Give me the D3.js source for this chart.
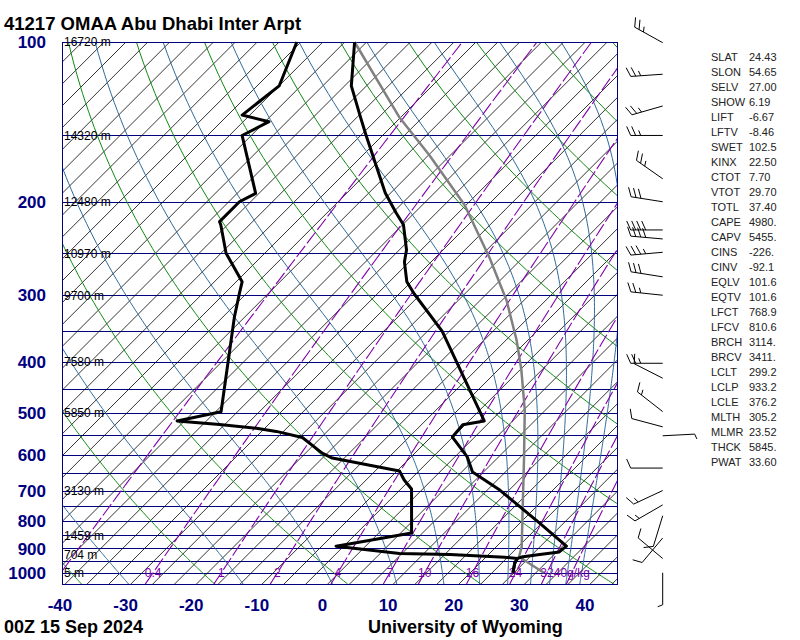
<!DOCTYPE html>
<html>
<head>
<meta charset="utf-8">
<script src="https://cdn.jsdelivr.net/npm/d3@7"></script>
<style>
body { margin: 0; background: #fff; }
text { font-family: "Liberation Sans", Arial, sans-serif; }
</style>
</head>
<body>
<script>
// sounding (pressure hPa, temperature degC)
var tempP = [100, 121, 138.4, 150, 192.6, 210, 221, 246.5, 259.6, 283, 298.4, 350.6, 517.6, 526, 555, 605, 646, 698.6, 806, 891, 913.6, 923.5, 933, 939.6, 958.6, 1000];
var tempT = [-77.7, -71.5, -65.4, -61.7, -50.0, -45.3, -42.4, -38.1, -36.6, -33.2, -30.2, -20.3, -0.2, -2.9, -2.6, 2.7, 5.8, 12.7, 23.8, 31.4, 31.2, 28.6, 26.4, 25.8, 26.1, 27.3];

var dewP = [100, 121, 137.3, 141.3, 150, 192.9, 200, 218, 221.2, 250, 283, 297, 329.8, 497.4, 517.6, 525.5, 534.3, 541.6, 556, 595, 608, 643, 668.7, 695.5, 841.5, 891, 920, 923.5, 929.5, 934.6, 939.6, 958.6, 1000];
var dewT = [-86.5, -82.5, -83.7, -78.6, -80.6, -69.7, -70.9, -70.9, -70.2, -65.1, -58.3, -57.0, -54.1, -41.7, -47.0, -40.0, -33.8, -30.3, -25.4, -20.0, -17.7, -5.5, -3.4, -0.9, 5.8, -3.7, 7.1, 14.9, 19.7, 23.7, 25.8, 26.1, 27.3];

var parcelP = [100, 138.4, 163.3, 202.8, 255.3, 306.6, 364.4, 415, 493.5, 613, 894, 933, 1000];
var parcelT = [-77.7, -59.5, -49.1, -36.1, -24.2, -15.2, -7.6, -2.3, 4.3, 11.8, 24.7, 25.8, 32.0];

var heightP = [100, 150, 200, 250, 300, 400, 500, 700, 850, 925, 1000];
var heightLabel = ["16720 m", "14320 m", "12480 m", "10970 m", "9700 m", "7580 m", "5850 m", "3130 m", "1459 m", "704 m", "5 m"];

var pressTicks = [100, 200, 300, 400, 500, 600, 700, 800, 900, 1000];
var tempTicks = [-40, -30, -20, -10, 0, 10, 20, 30, 40];

var mixRatios = [0.1, 0.4, 1, 2, 4, 7, 10, 16, 24, 32, 40];
var mixLabels = ["", "0.4", "1", "2", "4", "7", "10", "16", "24", "32", "40g/kg"];

// wind barbs: pressure, direction (deg), speed (kt)
var windP = [100.3, 115, 132, 150, 181, 200, 226, 235, 249, 277, 300, 403, 430, 497, 531, 552, 635, 700, 745, 781, 860, 940, 1000];
var windDir = [299, 266, 254, 270, 305, 279, 270, 275, 265, 279, 276, 270, 297, 308, 285, 87, 270, 245, 240, 197, 220, 310, 180];
var windSpd = [25, 25, 25, 25, 25, 30, 40, 40, 35, 30, 25, 25, 10, 15, 10, 3, 10, 15, 15, 10, 10, 10, 5];

var statNames = ["SLAT", "SLON", "SELV", "SHOW", "LIFT", "LFTV", "SWET", "KINX", "CTOT", "VTOT", "TOTL", "CAPE", "CAPV", "CINS", "CINV", "EQLV", "EQTV", "LFCT", "LFCV", "BRCH", "BRCV", "LCLT", "LCLP", "LCLE", "MLTH", "MLMR", "THCK", "PWAT"];
var statValues = ["24.43", "54.65", "27.00", "6.19", "-6.67", "-8.46", "102.5", "22.50", "7.70", "29.70", "37.40", "4980.", "5455.", "-226.", "-92.1", "101.6", "101.6", "768.9", "810.6", "3114.", "3411.", "299.2", "933.2", "376.2", "305.2", "23.52", "5845.", "33.60"];

// background line families
var isobars = d3.range(100, 1051, 50);
var isotherms = d3.range(-122, 46, 10 / 3).map(function(d) { return d + 2.8; });
var dryTheta = d3.range(-40, 181, 20);      // theta as temp at 1000 hPa
var moistThetaE = d3.range(241, 442, 20);   // equivalent potential temp, K

var w = 800, h = 640;
var pLeft = 62, pRight = 617, pTop = 42, pBottom = 584;

var svg = d3.select("body").append("svg")
  .attr("width", w)
  .attr("height", h);

var y = d3.scaleLog().domain([1050, 100]).range([pBottom, pTop]);
var xT = d3.scaleLinear().domain([-40, 40]).range([60, 585]);

function sx(t, p) { return xT(t) + (pBottom - y(p)); }

var line = d3.line()
  .x(function(d) { return sx(d[1], d[0]); })
  .y(function(d) { return y(d[0]); });

var pGrid = d3.range(1050, 95, -5);

function thetaE(tk, p) {
  var tc = tk - 273.15;
  var es = 6.112 * Math.exp(17.67 * tc / (tc + 243.5));
  var rs = 0.622 * es / (p - es);
  return tk * Math.pow(1000 / p, 0.2857) * Math.exp(2.5e6 * rs / (1004 * tk));
}
function moistT(te, p) {
  var lo = 150, hi = te * Math.pow(p / 1000, 0.2857);
  for (var i = 0; i < 40; i++) {
    var mid = (lo + hi) / 2;
    if (thetaE(mid, p) > te) hi = mid; else lo = mid;
  }
  return (lo + hi) / 2 - 273.15;
}
function mixT(r, p) {
  var es = r * p / (622 + r);
  var l = Math.log(es / 6.112);
  return 243.5 * l / (17.67 - l);
}

svg.append("clipPath").attr("id", "plot")
  .append("rect")
  .attr("x", pLeft).attr("y", pTop)
  .attr("width", pRight - pLeft).attr("height", pBottom - pTop);

var bg = svg.append("g").attr("clip-path", "url(#plot)");

bg.selectAll(".isobar")
  .data(isobars)
  .enter().append("line")
  .attr("x1", pLeft).attr("x2", pRight)
  .attr("y1", function(d) { return Math.round(y(d)) + 0.5; })
  .attr("y2", function(d) { return Math.round(y(d)) + 0.5; })
  .attr("stroke", "#000080")
  .attr("stroke-width", 1);

bg.selectAll(".isotherm")
  .data(isotherms)
  .enter().append("line")
  .attr("x1", function(d) { return sx(d, 1050); })
  .attr("y1", pBottom)
  .attr("x2", function(d) { return sx(d, 100); })
  .attr("y2", pTop)
  .attr("stroke", "#000")
  .attr("stroke-width", 0.8);

bg.selectAll(".dry")
  .data(dryTheta)
  .enter().append("path")
  .attr("d", function(th) {
    return line(pGrid.map(function(p) {
      return [p, (th + 273.15) * Math.pow(p / 1000, 0.2857) - 273.15];
    }));
  })
  .attr("fill", "none")
  .attr("stroke", "#108a10")
  .attr("stroke-width", 1);

bg.selectAll(".moist")
  .data(moistThetaE)
  .enter().append("path")
  .attr("d", function(te) {
    return line(pGrid.map(function(p) { return [p, moistT(te, p)]; }));
  })
  .attr("fill", "none")
  .attr("stroke", "#2f6a9a")
  .attr("stroke-width", 1);

bg.selectAll(".mix")
  .data(mixRatios)
  .enter().append("path")
  .attr("d", function(r) {
    return line(pGrid.map(function(p) { return [p, mixT(r, p)]; }));
  })
  .attr("fill", "none")
  .attr("stroke", "#8000a8")
  .attr("stroke-width", 1.1)
  .attr("stroke-dasharray", "14,3");

// frame
svg.append("rect")
  .attr("x", pLeft + 0.5).attr("y", pTop + 0.5)
  .attr("width", pRight - pLeft).attr("height", pBottom - pTop)
  .attr("fill", "none")
  .attr("stroke", "#000080");

// mixing ratio labels at 1000 hPa
svg.selectAll(".mixlab")
  .data(mixRatios)
  .enter().append("text")
  .attr("x", function(r) { return sx(mixT(r, 1000), 1000); })
  .attr("y", y(1000))
  .attr("dy", "0.36em")
  .attr("text-anchor", "middle")
  .attr("font-size", "12px")
  .attr("fill", "#8000a8")
  .text(function(r, i) { return mixLabels[i]; });

// heights
svg.selectAll(".hgt")
  .data(heightP)
  .enter().append("text")
  .attr("x", 64)
  .attr("y", function(d) { return y(d); })
  .attr("dy", "0.36em")
  .attr("font-size", "12px")
  .attr("fill", "#000")
  .text(function(d, i) { return heightLabel[i]; });

// sounding lines
function zipPT(ps, ts) { return ps.map(function(p, i) { return [p, ts[i]]; }); }

svg.append("path")
  .attr("d", line(zipPT(parcelP, parcelT)))
  .attr("fill", "none")
  .attr("stroke", "#808080")
  .attr("stroke-width", 2.5)
  .attr("stroke-linejoin", "round");

svg.append("path")
  .attr("d", line(zipPT(dewP, dewT)))
  .attr("fill", "none")
  .attr("stroke", "#000")
  .attr("stroke-width", 3)
  .attr("stroke-linejoin", "round");

svg.append("path")
  .attr("d", line(zipPT(tempP, tempT)))
  .attr("fill", "none")
  .attr("stroke", "#000")
  .attr("stroke-width", 3)
  .attr("stroke-linejoin", "round");

// axes labels
svg.selectAll(".plab")
  .data(pressTicks)
  .enter().append("text")
  .attr("x", 46)
  .attr("y", function(d) { return y(d); })
  .attr("dy", "0.36em")
  .attr("text-anchor", "end")
  .attr("font-size", "17px")
  .attr("font-weight", "bold")
  .attr("fill", "#000080")
  .text(function(d) { return d; });

svg.selectAll(".tlab")
  .data(tempTicks)
  .enter().append("text")
  .attr("x", function(d) { return xT(d); })
  .attr("y", 611)
  .attr("text-anchor", "middle")
  .attr("font-size", "17px")
  .attr("font-weight", "bold")
  .attr("fill", "#000080")
  .text(function(d) { return d; });

svg.append("text")
  .attr("x", 4).attr("y", 30)
  .attr("font-size", "18.5px")
  .attr("font-weight", "bold")
  .text("41217 OMAA Abu Dhabi Inter Arpt");

svg.append("text")
  .attr("x", 4).attr("y", 633)
  .attr("font-size", "18px")
  .attr("font-weight", "bold")
  .text("00Z 15 Sep 2024");

svg.append("text")
  .attr("x", 368).attr("y", 633)
  .attr("font-size", "18px")
  .attr("font-weight", "bold")
  .text("University of Wyoming");

// station parameters
svg.selectAll(".sname")
  .data(statNames)
  .enter().append("text")
  .attr("x", 711)
  .attr("y", function(d, i) { return 57.3 + i * 15; })
  .attr("dy", "0.36em")
  .attr("font-family", "'DejaVu Sans', sans-serif")
  .attr("font-size", "11px")
  .attr("fill", "#222")
  .text(function(d) { return d; });

svg.selectAll(".sval")
  .data(statValues)
  .enter().append("text")
  .attr("x", 749)
  .attr("y", function(d, i) { return 57.3 + i * 15; })
  .attr("dy", "0.36em")
  .attr("font-family", "'DejaVu Sans', sans-serif")
  .attr("font-size", "11px")
  .attr("fill", "#222")
  .text(function(d) { return d; });

// wind barbs
var barbs = svg.append("g")
  .attr("fill", "none")
  .attr("stroke", "#000")
  .attr("stroke-width", 1);

windP.forEach(function(p, i) {
  var x0 = 662.7, y0 = y(p), L = 32;
  var a = windDir[i] * Math.PI / 180;
  var ux = Math.sin(a), uy = -Math.cos(a);
  var nx = -uy, ny = ux;
  var d = "M" + x0 + "," + y0 + "L" + (x0 + ux * L) + "," + (y0 + uy * L);
  var n = Math.round(windSpd[i] / 5);
  var full = Math.floor(n / 2), half = n % 2;
  var pos = L;
  for (var k = 0; k < full; k++) {
    var bx = x0 + ux * pos, by = y0 + uy * pos;
    d += "M" + bx + "," + by + "L" + (bx + nx * 9 + ux * 4) + "," + (by + ny * 9 + uy * 4);
    pos -= 5;
  }
  if (half) {
    var hx = x0 + ux * pos, hy = y0 + uy * pos;
    d += "M" + hx + "," + hy + "L" + (hx + nx * 5 + ux * 2) + "," + (hy + ny * 5 + uy * 2);
  }
  barbs.append("path").attr("d", d);
});
</script>
</body>
</html>
